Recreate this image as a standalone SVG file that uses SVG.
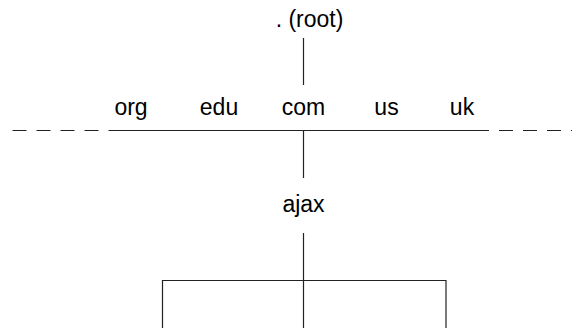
<svg xmlns="http://www.w3.org/2000/svg" width="572" height="328" viewBox="0 0 572 328">
<style>
  .lbl { font-family: "Liberation Sans", Arial, Helvetica, sans-serif; font-size: 23px; fill: #000; text-anchor: middle; }
  .ln { stroke: #222; stroke-width: 1.2; fill: none; }
  .dash { stroke: #222; stroke-width: 1.2; fill: none; stroke-dasharray: 14 10; }
</style>
<rect width="572" height="328" fill="#fff"/>
<g id="connectors">
  <line class="ln" x1="303.5" y1="38" x2="303.5" y2="85"/>
  <line class="dash" x1="12.5" y1="130.5" x2="110" y2="130.5"/>
  <line class="ln" x1="109" y1="130.5" x2="475" y2="130.5"/>
  <line class="dash" x1="475" y1="130.5" x2="572" y2="130.5"/>
  <line class="ln" x1="303.5" y1="130.5" x2="303.5" y2="178"/>
  <line class="ln" x1="303.5" y1="233" x2="303.5" y2="328"/>
  <polyline class="ln" points="162.5,328 162.5,280.5 446,280.5 446,328"/>
</g>
<g id="root"><text class="lbl" x="309.5" y="26.5">. (root)</text></g>
<g id="org"><text class="lbl" x="131" y="114.5">org</text></g>
<g id="edu"><text class="lbl" x="219" y="114.5">edu</text></g>
<g id="com"><text class="lbl" x="303.5" y="114.5">com</text></g>
<g id="us"><text class="lbl" x="386.5" y="114.5">us</text></g>
<g id="uk"><text class="lbl" x="462" y="114.5">uk</text></g>
<g id="ajax"><text class="lbl" x="303.5" y="211.5">ajax</text></g>
</svg>
